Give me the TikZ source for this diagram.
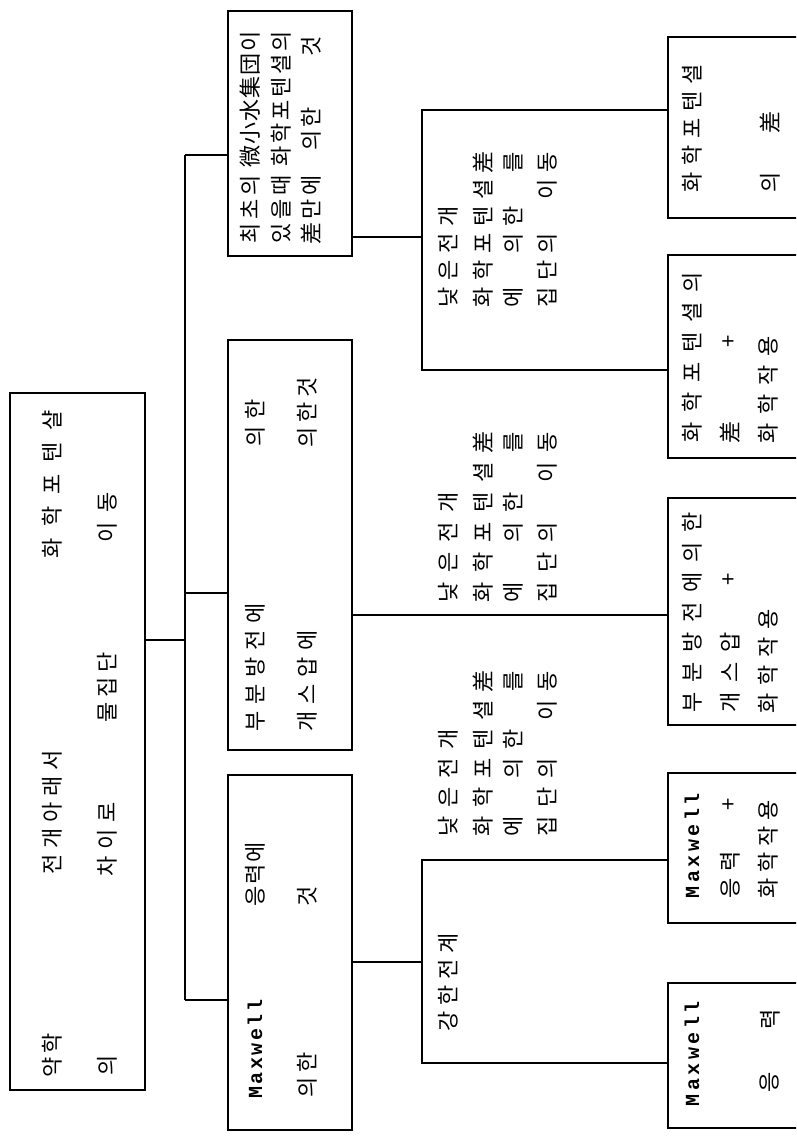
\documentclass[tikz,border=0pt]{standalone}
\usepackage{fontspec}
\newfontfamily\kr{Noto Sans CJK KR}
\newfontfamily\mono{Liberation Mono}
\newlength\pitch
\def\spr#1{\ifx#1\relax\else\ifx#1*\hbox to\pitch{}\else\hbox to\pitch{\hss#1\hss}\fi\expandafter\spr\fi}
\newcommand\kline[2]{\setlength\pitch{#1pt}\spr#2\relax}
\tikzset{
  box/.style={draw, line width=1.5pt, inner sep=0pt},
  txt/.style={rotate=90, anchor=west, inner sep=0pt, font=\kr\fontsize{22}{22}\selectfont},
  mx/.style={rotate=90, anchor=west, inner sep=0pt, font=\mono\bfseries\fontsize{20}{20}\selectfont},
  wire/.style={line width=1.5pt}
}
\begin{document}
\begin{tikzpicture}[x=1pt,y=-1pt]
\clip (0,0) rectangle (796,1137);
\fill[white] (0,0) rectangle (796,1137);
% boxes
\node[box, minimum width=135pt, minimum height=697pt] (root) at (77.5,741.5) {};
\node[box, minimum width=124pt, minimum height=245pt] (A) at (290,133.5) {};
\node[box, minimum width=124pt, minimum height=410pt] (B) at (290,545) {};
\node[box, minimum width=124pt, minimum height=355pt] (M) at (290,952.5) {};
\node[box, minimum width=150pt, minimum height=181pt] (A1) at (743,127.5) {};
\node[box, minimum width=150pt, minimum height=203pt] (A2) at (743,356.5) {};
\node[box, minimum width=150pt, minimum height=227pt] (B1) at (743,611.5) {};
\node[box, minimum width=150pt, minimum height=150pt] (M1) at (743,848) {};
\node[box, minimum width=150pt, minimum height=145pt] (M2) at (743,1055.5) {};
% junctions
\coordinate (jr) at (185,640);
\coordinate (jA) at (185,155);
\coordinate (jB) at (185,593);
\coordinate (jM) at (185,1000);
\coordinate (bAm) at (422,237);
\coordinate (bA1) at (422,110);
\coordinate (bA2) at (422,370);
\coordinate (bB) at (422,615);
\coordinate (bMm) at (422,962);
\coordinate (bM1) at (422,860);
\coordinate (bM2) at (422,1063);
% connectors
\draw[wire] (jr -| root.east) -- (jr);
\draw[wire] (jA) -- (jM);
\draw[wire] (jA) -- (jA -| A.west);
\draw[wire] (jB) -- (jB -| B.west);
\draw[wire] (jM) -- (jM -| M.west);
\draw[wire] (bAm -| A.east) -- (bAm);
\draw[wire] (bA1 -| A1.west) -- (bA1) -- (bA2) -- (bA2 -| A2.west);
\draw[wire] (bB -| B.east) -- (bB -| B1.west);
\draw[wire] (bMm -| M.east) -- (bMm);
\draw[wire] (bM1 -| M1.west) -- (bM1) -- (bM2) -- (bM2 -| M2.west);
% root text
\node[txt] (r1) at (52,1080) {\kline{24}{약학}};
\node[txt] (r2) at (52,878) {\kline{26}{전개아래서}};
\node[txt] (r3) at (52,565) {\kline{32}{화학포텐샬}};
\node[txt] (r4) at (107,1078) {\kline{24}{의}};
\node[txt] (r5) at (107,880) {\kline{27}{차이로}};
\node[txt] (r6) at (107,725) {\kline{25}{물집단}};
\node[txt] (r7) at (107,548) {\kline{30}{이동}};
% box A text
\node[txt] (a1) at (250,246) {\kline{24}{최초의}};
\node[txt] (a2) at (250,168) {\kline{23}{微小水集団이}};
\node[txt] (a3) at (281,246) {\kline{24}{있을때}};
\node[txt] (a4) at (281,168) {\kline{23}{화학포텐셜의}};
\node[txt] (a5) at (311,246) {\kline{24}{差만에}};
\node[txt] (a6) at (311,152) {\kline{23}{의한}};
\node[txt] (a7) at (311,58) {\kline{23}{것}};
% box B text
\node[txt] (b1) at (255,735) {\kline{27}{부분방전에}};
\node[txt] (b2) at (255,450) {\kline{27}{의한}};
\node[txt] (b3) at (307,735) {\kline{27}{개스압에}};
\node[txt] (b4) at (307,450) {\kline{25}{의한것}};
% box M text
\node[mx] (m1) at (255,1100) {\kline{14.5}{Maxwell}};
\node[txt] (m2) at (255,908) {\kline{22}{응력에}};
\node[txt] (m3) at (307,1100) {\kline{25}{의한}};
\node[txt] (m4) at (307,908) {\kline{22}{것}};
% labels between levels
\node[txt] (la1) at (448,311) {\kline{27}{낮은전개}};
\node[txt] (la2) at (483,311) {\kline{27}{화학포텐셜差}};
\node[txt] (la3) at (513,311) {\kline{27}{에*의한*를}};
\node[txt] (la4) at (547,311) {\kline{27}{집단의*이동}};
\node[txt] (lb1) at (448,608) {\kline{30}{낮은전개}};
\node[txt] (lb2) at (483,608) {\kline{30}{화학포텐셜差}};
\node[txt] (lb3) at (513,608) {\kline{30}{에*의한*를}};
\node[txt] (lb4) at (547,608) {\kline{30}{집단의*이동}};
\node[txt] (lm1) at (448,841) {\kline{29}{낮은전개}};
\node[txt] (lm2) at (483,841) {\kline{29}{화학포텐셜差}};
\node[txt] (lm3) at (513,841) {\kline{29}{에*의한*를}};
\node[txt] (lm4) at (547,841) {\kline{29}{집단의*이동}};
\node[txt] (lm5) at (448,1035) {\kline{26}{강한전계}};
% leaf texts
\node[txt] (p1) at (692,196) {\kline{27}{화학포텐셜}};
\node[txt] (p2) at (770,196) {\kline{27}{의}};
\node[txt] (p3) at (770,136) {\kline{27}{差}};
\node[txt] (q1) at (692,448) {\kline{30}{화학포텐셜의}};
\node[txt] (q2) at (730,448) {\kline{30}{差}};
\node[txt] (q3) at (730,357) {\kline{30}{+}};
\node[txt] (q4) at (768,448) {\kline{29}{화학작용}};
\node[txt] (s1) at (692,718) {\kline{30}{부분방전에의한}};
\node[txt] (s2) at (730,718) {\kline{30}{개스압}};
\node[txt] (s3) at (730,595) {\kline{30}{+}};
\node[txt] (s4) at (768,718) {\kline{28}{화학작용}};
\node[mx] (u1) at (692,900) {\kline{15.5}{Maxwell}};
\node[txt] (u2) at (730,902) {\kline{27}{응력}};
\node[txt] (u3) at (730,818) {\kline{27}{+}};
\node[txt] (u4) at (768,902) {\kline{26}{화학작용}};
\node[mx] (v1) at (692,1108) {\kline{15.5}{Maxwell}};
\node[txt] (v2) at (770,1096) {\kline{27}{응}};
\node[txt] (v3) at (770,1033) {\kline{27}{력}};
\end{tikzpicture}
\end{document}
